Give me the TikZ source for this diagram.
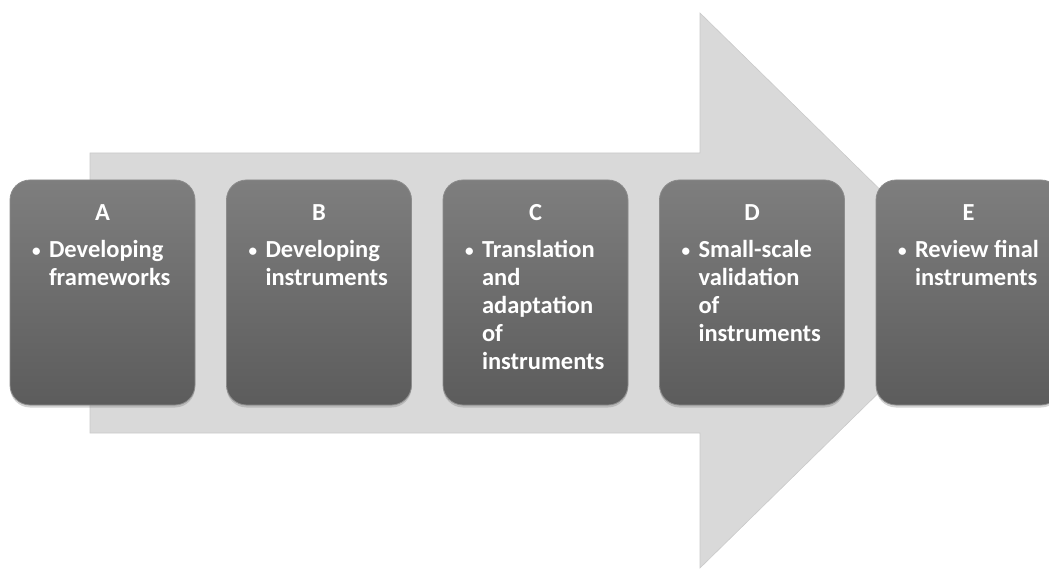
\documentclass[tikz,border=0pt]{standalone}
\usepackage{fontspec}
\setmainfont{Carlito}
\usepackage{tikz}
\usetikzlibrary{positioning,shadows}

\definecolor{arrowgray}{HTML}{D9D9D9}
\definecolor{arrowedge}{HTML}{CACACA}
\definecolor{boxtop}{HTML}{7E7E7E}
\definecolor{boxbottom}{HTML}{5C5C5C}
\definecolor{boxedge}{HTML}{8C8C8C}

\newcommand{\stagetext}[2]{%
  \begin{minipage}[t]{141pt}
    \centering #1\par\vspace{9pt}
    \raggedright\let\\\newline
    \leavevmode\hangindent=17pt\hangafter=1
    \makebox[17pt][l]{\raisebox{1pt}{\scalebox{0.7}{\textbullet}}}#2\par
  \end{minipage}}

\tikzset{
  stage/.style={rectangle, rounded corners=20pt, minimum width=185pt,
    minimum height=225pt, draw=boxedge, line width=0.8pt,
    top color=boxtop, bottom color=boxbottom,
    drop shadow={opacity=0.35, shadow xshift=0pt, shadow yshift=-2.5pt}},
  stagetxt/.style={inner sep=0pt, text=white,
    font=\fontsize{24.5}{28}\selectfont\bfseries},
}

\begin{document}
\begin{tikzpicture}[x=1pt, y=-1pt]
    \useasboundingbox (0,0) rectangle (1049,569);

    % big arrow behind the boxes
    \draw[fill=arrowgray, draw=arrowedge, line width=0.6pt]
      (90,153) -- (700,153) -- (700,13) -- (983,290.5)
      -- (700,568) -- (700,433) -- (90,433) -- cycle;

    \node[stage] (A) at (102.5,292.5) {};
    \node[stage] (B) at (319,292.5) {};
    \node[stage] (C) at (535.5,292.5) {};
    \node[stage] (D) at (752,292.5) {};
    \node[stage] (E) at (968.5,292.5) {};

    \node[stagetxt, below=25pt of A.north] (A-txt)
      {\stagetext{A}{Developing\\frameworks}};
    \node[stagetxt, below=25pt of B.north] (B-txt)
      {\stagetext{B}{Developing\\instruments}};
    \node[stagetxt, below=25pt of C.north] (C-txt)
      {\stagetext{C}{Translation\\and\\adaptation\\of\\instruments}};
    \node[stagetxt, below=25pt of D.north] (D-txt)
      {\stagetext{D}{Small-scale\\validation\\of\\instruments}};
    \node[stagetxt, below=25pt of E.north] (E-txt)
      {\stagetext{E}{Review final\\instruments}};
\end{tikzpicture}
\end{document}
